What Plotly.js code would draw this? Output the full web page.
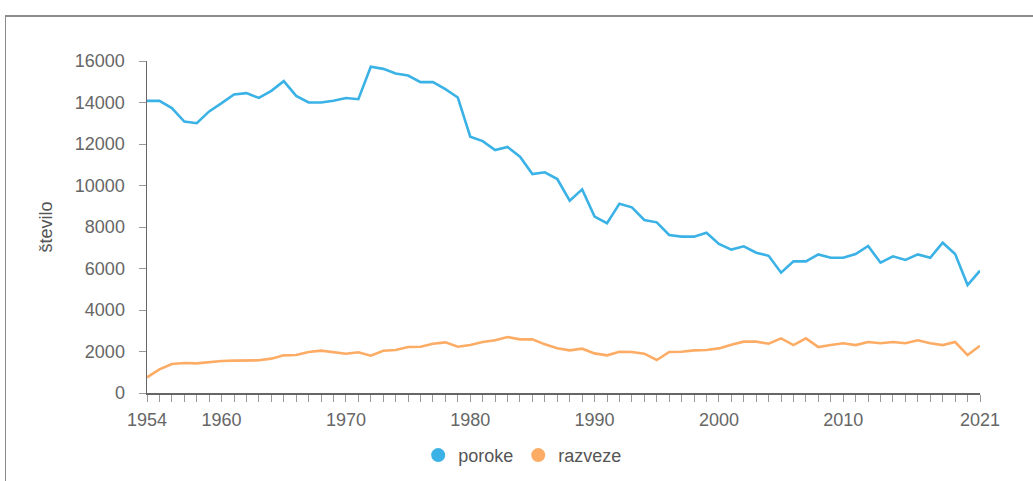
<!DOCTYPE html>
<html>
<head>
<meta charset="utf-8">
<script src="https://cdn.plot.ly/plotly-3.0.1.min.js"></script>
<style>
  html, body { margin: 0; padding: 0; background: #fff; }
  #wrap { position: relative; width: 1033px; height: 481px; overflow: hidden; }
  #chart { position: absolute; left: 0; top: 0; width: 1033px; height: 481px; }
  #frame { position: absolute; left: 5px; top: 15px; width: 1040px; height: 480px;
           border-top: 2px solid #8c8c8c; border-left: 1px solid #8c8c8c; pointer-events: none; }
</style>
</head>
<body>
<div id="wrap">
  <div id="chart"></div>
  <div id="frame"></div>
</div>
<script>
const years = [];
for (let y = 1954; y <= 2021; y++) years.push(y);

const poroke = [
  14080, 14080, 13730, 13080, 13000, 13570, 13970, 14390, 14450, 14220,
  14560, 15030, 14320, 14000, 14000, 14080, 14220, 14160, 15720, 15620,
  15400, 15300, 14980, 14980, 14640, 14240, 12350, 12140, 11710, 11855,
  11390, 10550, 10635, 10310, 9270, 9815, 8500, 8180, 9125, 8950,
  8340, 8225, 7615, 7535, 7535, 7725, 7180, 6910, 7070, 6760,
  6610, 5800, 6345, 6345, 6680, 6520, 6520, 6700, 7085, 6280,
  6585, 6410, 6680, 6520, 7245, 6700, 5200, 5895
];

const razveze = [
  755, 1140, 1400, 1445, 1430, 1495, 1540, 1560, 1575, 1575,
  1655, 1815, 1830, 1975, 2040, 1960, 1895, 1960, 1800, 2040,
  2070, 2215, 2230, 2375, 2440, 2230, 2310, 2455, 2540, 2700,
  2585, 2585, 2345, 2160, 2055, 2135, 1910, 1815, 1990, 1975,
  1895, 1590, 1975, 1990, 2055, 2070, 2150, 2330, 2475, 2475,
  2375, 2635, 2310, 2635, 2215, 2310, 2395, 2310, 2455, 2395,
  2455, 2395, 2540, 2395, 2310, 2455, 1830, 2280
];

const seriesNames = ['poroke', 'razveze'];
const seriesColors = ['#3ab2e6', '#fdac66'];
const xTickVals = [1954, 1960, 1970, 1980, 1990, 2000, 2010, 2021];
const yTickVals = [0, 2000, 4000, 6000, 8000, 10000, 12000, 14000, 16000];
const yTitle = 'število';

const font = 'Liberation Sans, Arial, sans-serif';
const fs = 18;

const traces = [
  { x: years, y: poroke, name: seriesNames[0], mode: 'lines', showlegend: false,
    line: { color: seriesColors[0], width: 2.6 } },
  { x: years, y: razveze, name: seriesNames[1], mode: 'lines', showlegend: false,
    line: { color: seriesColors[1], width: 2.6 } },
  { x: [null], y: [null], name: seriesNames[0], mode: 'markers', showlegend: true,
    marker: { color: seriesColors[0], size: 14 } },
  { x: [null], y: [null], name: seriesNames[1], mode: 'markers', showlegend: true,
    marker: { color: seriesColors[1], size: 14 } }
];

const layout = {
  width: 1033, height: 481,
  margin: { l: 147, r: 53, t: 61, b: 88, autoexpand: false },
  paper_bgcolor: 'rgba(0,0,0,0)',
  plot_bgcolor: 'rgba(0,0,0,0)',
  font: { family: font, size: fs, color: '#666' },
  showlegend: true,
  legend: {
    orientation: 'h', x: 0.451, xanchor: 'center', y: -0.188, yanchor: 'middle',
    font: { family: font, size: fs, color: '#555' },
    itemwidth: 30, tracegroupgap: 0
  },
  xaxis: {
    range: [1954, 2021],
    tickmode: 'array', tickvals: xTickVals, ticktext: xTickVals.map(String),
    ticks: 'outside', ticklen: 7, tickwidth: 1, tickcolor: '#999',
    ticklabelstandoff: 3,
    minor: { tickmode: 'linear', tick0: 1954, dtick: 1, ticks: 'outside', ticklen: 7, tickwidth: 1, tickcolor: '#999', showgrid: false },
    showline: true, linecolor: '#666', linewidth: 1.5,
    showgrid: false, zeroline: false,
    tickfont: { family: font, size: fs, color: '#666' }
  },
  yaxis: {
    range: [0, 16000],
    tickmode: 'array', tickvals: yTickVals, ticktext: yTickVals.map(String),
    ticks: 'outside', ticklen: 7, tickwidth: 1, tickcolor: '#999',
    ticklabelstandoff: 10,
    showline: true, linecolor: '#666', linewidth: 1.5,
    showgrid: false, zeroline: false,
    tickfont: { family: font, size: fs, color: '#666' },
    title: { text: yTitle, font: { family: font, size: fs, color: '#555' }, standoff: 17 }
  }
};

Plotly.newPlot('chart', traces, layout, { staticPlot: true, displayModeBar: false });
</script>
</body>
</html>
